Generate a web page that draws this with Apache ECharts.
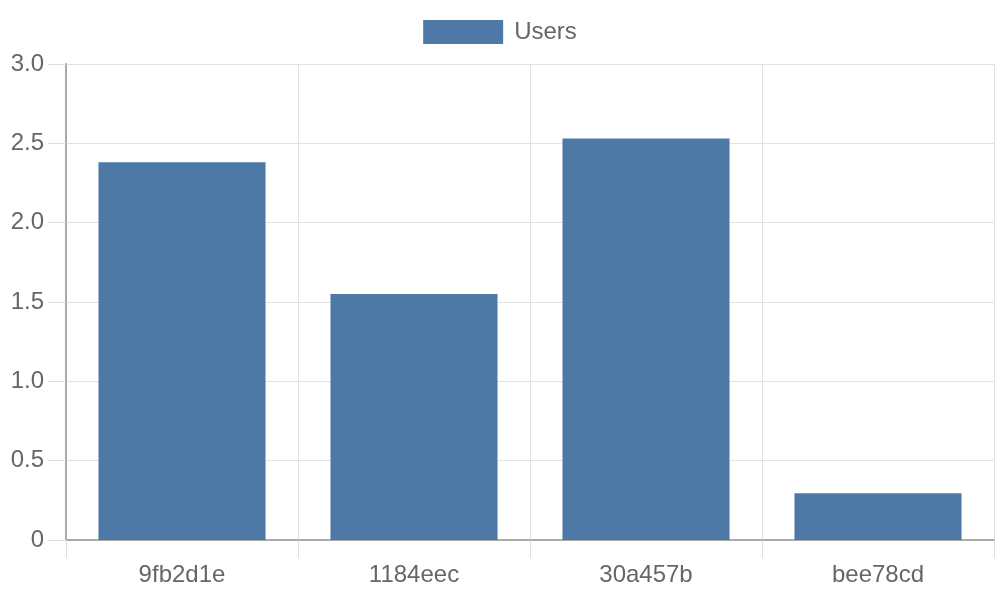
<!DOCTYPE html>
<html><head><meta charset="utf-8">
<script src="https://cdn.jsdelivr.net/npm/echarts@6/dist/echarts.min.js"></script>
<style>html,body{margin:0;padding:0;background:#fff}#c{width:1000px;height:600px}</style>
</head><body><div id="c"></div>
<script>
const categories = ['9fb2d1e', '1184eec', '30a457b', 'bee78cd'];
const seriesName = 'Users';
const users = [2.38, 1.55, 2.53, 0.295];
const yTicks = { min: 0, max: 3, interval: 0.5 };

const chart = echarts.init(document.getElementById('c'));
chart.setOption({
  animation: false,
  textStyle: { fontFamily: 'Liberation Sans, Arial, sans-serif' },
  legend: {
    top: 15, left: 'center',
    itemWidth: 80, itemHeight: 24,
    icon: 'rect',
    textStyle: { fontSize: 24, color: '#666', padding: [0, 0, 0, 6] },
    data: [seriesName]
  },
  grid: { left: 66, right: 6, top: 64, bottom: 60 },
  xAxis: {
    type: 'category', data: categories,
    axisLine: { show: true, lineStyle: { color: '#aaa', width: 2 } },
    axisTick: { show: true, length: 18, lineStyle: { color: '#ddd' } },
    axisLabel: { fontSize: 24, color: '#666', margin: 23 },
    splitLine: { show: true, lineStyle: { color: '#e2e2e2' } }
  },
  yAxis: {
    type: 'value', min: yTicks.min, max: yTicks.max, interval: yTicks.interval,
    axisLine: { show: true, lineStyle: { color: '#aaa', width: 2 } },
    axisTick: { show: true, length: 18, lineStyle: { color: '#ddd' } },
    axisLabel: { fontSize: 24, color: '#666', margin: 22,
      formatter: v => v === 0 ? '0' : v.toFixed(1) },
    splitLine: { show: true, lineStyle: { color: '#e2e2e2' } }
  },
  series: [{
    name: seriesName, type: 'bar', data: users,
    barCategoryGap: '28%',
    itemStyle: { color: '#4e79a7' }
  }]
});
</script></body></html>
